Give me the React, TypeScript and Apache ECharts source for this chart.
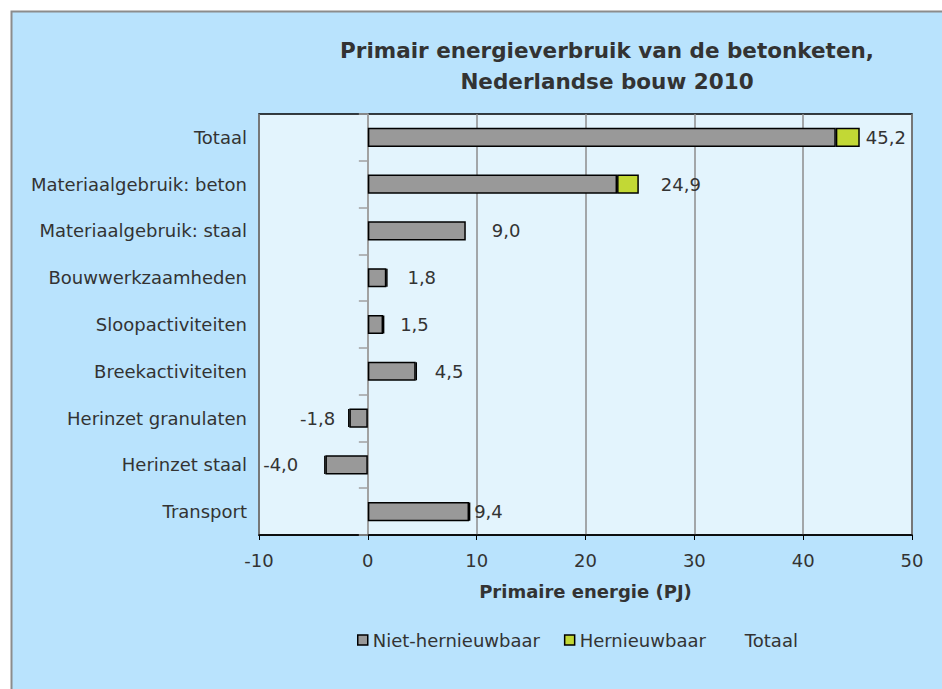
import React, { useEffect, useRef } from "react";
import * as echarts from "echarts";

const categories = [
  "Totaal",
  "Materiaalgebruik: beton",
  "Materiaalgebruik: staal",
  "Bouwwerkzaamheden",
  "Sloopactiviteiten",
  "Breekactiviteiten",
  "Herinzet granulaten",
  "Herinzet staal",
  "Transport",
];
const nietHernieuwbaar = [43.0, 22.9, 9.0, 1.7, 1.4, 4.4, -1.7, -3.9, 9.3];
const hernieuwbaar = [2.2, 2.0, 0.0, 0.1, 0.1, 0.1, -0.1, -0.1, 0.1];
const totaal = [45.2, 24.9, 9.0, 1.8, 1.5, 4.5, -1.8, -4.0, 9.4];
const xTicks = { min: -10, max: 50, interval: 10 };

// style: distance of each total label from its bar end
const labelGap = [6, 22, 26, 20, 16, 18, 13, 26, 4];

const FONT = "DejaVu Sans";
const FS = 18;

export default function App() {
  const ref = useRef<HTMLDivElement>(null);
  useEffect(() => {
    if (!ref.current) return;
    const chart = echarts.init(ref.current, null, { renderer: "svg" });
    const fmt = (v: number) => v.toFixed(1).replace(".", ",");
    chart.setOption({
      animation: false,
      backgroundColor: "#ffffff",
      graphic: [
        {
          type: "rect",
          shape: { x: 11.5, y: 11.5, width: 940, height: 690 },
          style: { fill: "#b9e3fd", stroke: "#8c8c8c", lineWidth: 2 },
          z: -10,
          silent: true,
        },
      ],
      title: {
        text: "Primair energieverbruik van de betonketen,\nNederlandse bouw 2010",
        left: 602,
        textAlign: "center",
        top: 30,
        textStyle: {
          fontFamily: FONT,
          fontWeight: "bold",
          fontSize: 21.5,
          lineHeight: 31,
          color: "#333333",
        },
      },
      legend: {
        top: 626,
        left: 352,
        itemWidth: 10,
        itemHeight: 10,
        itemGap: 24,
        textStyle: { fontFamily: FONT, fontSize: FS, color: "#333333" },
        data: [
          { name: "Niet-hernieuwbaar", icon: "rect", itemStyle: { color: "#999999", borderColor: "#000", borderWidth: 1.5 } },
          { name: "Hernieuwbaar", icon: "rect", itemStyle: { color: "#c2d835", borderColor: "#000", borderWidth: 1.5 } },
          { name: "Totaal", icon: "rect", itemStyle: { color: "transparent", borderWidth: 0, opacity: 0 } },
        ],
      },
      grid: {
        left: 259,
        right: 30,
        top: 114,
        bottom: 154,
        show: true,
        backgroundColor: "#e3f4fd",
        borderColor: "#000000",
        borderWidth: 1.5,
      },
      xAxis: {
        type: "value",
        min: xTicks.min,
        max: xTicks.max,
        interval: xTicks.interval,
        name: "Primaire energie (PJ)",
        nameLocation: "middle",
        nameGap: 47,
        nameTextStyle: { fontFamily: FONT, fontWeight: "bold", fontSize: FS, color: "#333333" },
        axisLine: { show: true, onZero: false, lineStyle: { color: "#000", width: 1.5 } },
        axisTick: { show: true, length: 5, lineStyle: { color: "#000" } },
        axisLabel: { fontFamily: FONT, fontSize: FS, color: "#333333", margin: 16 },
        splitLine: { show: true, lineStyle: { color: "#8c8c8c", width: 1.5 } },
      },
      yAxis: [
        {
          type: "category",
          data: categories,
          inverse: true,
          axisLine: { show: false, onZero: false },
          axisTick: { show: false },
          axisLabel: { fontFamily: FONT, fontSize: FS, color: "#333333", margin: 12 },
        },
        {
          type: "category",
          data: categories,
          inverse: true,
          position: "right",
          axisLine: { show: true, onZero: true, lineStyle: { color: "#a0a0a0", width: 1.5 } },
          axisTick: { show: true, inside: true, length: 9, lineStyle: { color: "#a0a0a0", width: 1.5 } },
          axisLabel: { show: false },
        },
      ],
      series: [
        {
          name: "Niet-hernieuwbaar",
          type: "bar",
          stack: "e",
          data: nietHernieuwbaar,
          barWidth: "41%",
          itemStyle: { color: "#999999", borderColor: "#000", borderWidth: 1.5 },
        },
        {
          name: "Hernieuwbaar",
          type: "bar",
          stack: "e",
          data: hernieuwbaar.map((v) => (v === 0 ? null : v)),
          barWidth: "41%",
          itemStyle: { color: "#c2d835", borderColor: "#000", borderWidth: 1.5 },
        },
        {
          name: "Totaal",
          type: "bar",
          barGap: "-100%",
          barWidth: "41%",
          data: totaal.map((v, i) => ({
            value: v,
            label: {
              show: true,
              position: v < 0 ? "left" : "right",
              distance: labelGap[i],
              formatter: () => fmt(v),
              fontFamily: FONT,
              fontSize: FS,
              color: "#333333",
            },
          })),
          itemStyle: { color: "transparent", borderWidth: 0 },
          z: 5,
        },
      ],
    });
    return () => chart.dispose();
  }, []);
  return (
    <div
      ref={ref}
      style={{ position: "fixed", left: 0, top: 0, width: 942, height: 689 }}
    />
  );
}
